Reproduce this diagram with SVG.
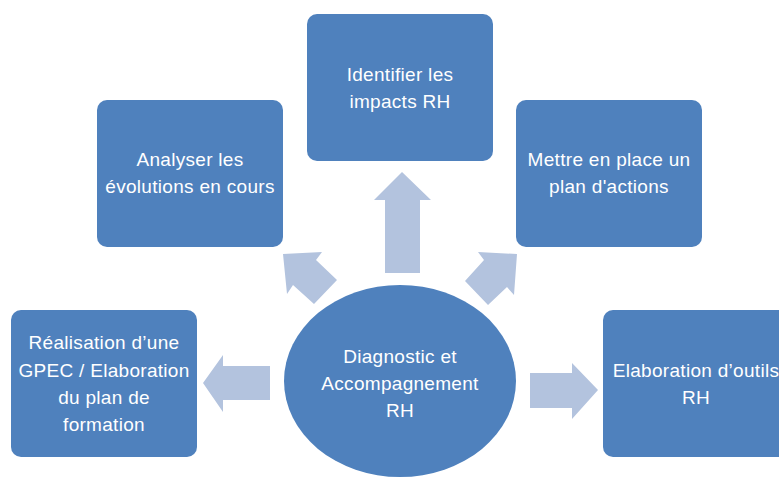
<svg xmlns="http://www.w3.org/2000/svg" width="779" height="477" viewBox="0 0 779 477">
<style>
.box{fill:#4F81BD;}
.arr{fill:#B3C3DE;}
text{font-family:"Liberation Sans",Arial,sans-serif;font-size:19px;letter-spacing:0.3px;fill:#FFFFFF;text-anchor:middle;}
</style>
<rect width="779" height="477" fill="#FFFFFF"/>
<g id="connectors">
<polygon class="arr" points="402,172 431,200 420,200 420,273 385,273 385,200 374,200"/>
<polygon class="arr" points="283,254 322,252 316,260 337,280 314,304 293,285 287,294"/>
<polygon class="arr" points="517,254 478,252 484,260 465,281 488,305 507,287 514,295"/>
<polygon class="arr" points="203,383 223,355 223,366 270,366 270,400 223,400 223,412"/>
<polygon class="arr" points="598,390 572,363 572,373 530,373 530,408 572,408 572,419"/>
</g>
<g id="center">
<ellipse class="box" cx="400" cy="381" rx="116" ry="96"/>
<text x="400" y="363">Diagnostic et</text>
<text x="400" y="390">Accompagnement</text>
<text x="400" y="417">RH</text>
</g>
<g id="identifier">
<rect class="box" x="307" y="14" width="186" height="147" rx="10"/>
<text x="400" y="81">Identifier les</text>
<text x="400" y="108">impacts RH</text>
</g>
<g id="analyser">
<rect class="box" x="97" y="100" width="186" height="147" rx="10"/>
<text x="190" y="166">Analyser les</text>
<text x="190" y="193">évolutions en cours</text>
</g>
<g id="mettre">
<rect class="box" x="516" y="100" width="186" height="147" rx="10"/>
<text x="609" y="166">Mettre en place un</text>
<text x="609" y="193">plan d'actions</text>
</g>
<g id="realisation">
<rect class="box" x="11" y="310" width="186" height="147" rx="10"/>
<text x="104" y="349">Réalisation d’une</text>
<text x="104" y="377">GPEC / Elaboration</text>
<text x="104" y="404">du plan de</text>
<text x="104" y="431">formation</text>
</g>
<g id="elaboration">
<rect class="box" x="603" y="310" width="186" height="147" rx="10"/>
<text x="696" y="377">Elaboration d’outils</text>
<text x="696" y="404">RH</text>
</g>
</svg>
